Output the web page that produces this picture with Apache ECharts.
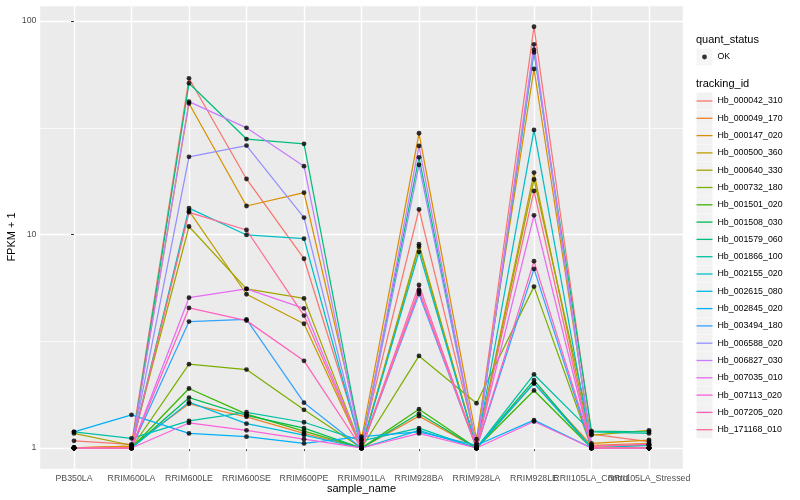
<!DOCTYPE html>
<html>
<head>
<meta charset="utf-8">
<script src="https://cdn.jsdelivr.net/npm/echarts@6/dist/echarts.min.js"></script>
<style>
html,body{margin:0;padding:0;background:#fff;}
#chart{width:800px;height:500px;}
</style>
</head>
<body>
<div id="chart"></div>
<script>
// ---------- data (FPKM + 1) ----------
const categories = ['PB350LA','RRIM600LA','RRIM600LE','RRIM600SE','RRIM600PE','RRIM901LA','RRIM928BA','RRIM928LA','RRIM928LE','RRII105LA_Control','RRII105LA_Stressed'];
const trackingIds = ['Hb_000042_310','Hb_000049_170','Hb_000147_020','Hb_000500_360','Hb_000640_330','Hb_000732_180','Hb_001501_020','Hb_001508_030','Hb_001579_060','Hb_001866_100','Hb_002155_020','Hb_002615_080','Hb_002845_020','Hb_003494_180','Hb_006588_020','Hb_006827_030','Hb_007035_010','Hb_007113_020','Hb_007205_020','Hb_171168_010'];

const Hb_000042_310 = [1.08, 1.04, 53.9, 18.2, 7.7, 1.05, 13.1, 1.05, 94.0, 1.16, 1.07];
const Hb_000049_170 = [1.00, 1.02, 1.61, 1.40, 1.17, 1.00, 1.41, 1.00, 2.01, 1.03, 1.05];
const Hb_000147_020 = [1.00, 1.02, 41.1, 13.6, 15.7, 1.10, 29.8, 1.10, 59.6, 1.05, 1.09];
const Hb_000500_360 = [1.00, 1.00, 12.9, 5.25, 3.82, 1.00, 9.0, 1.00, 19.5, 1.02, 1.03];
const Hb_000640_330 = [1.17, 1.03, 10.9, 5.56, 5.02, 1.00, 8.77, 1.00, 18.1, 1.15, 1.21];
const Hb_000732_180 = [1.00, 1.00, 2.47, 2.33, 1.51, 1.00, 2.70, 1.62, 5.7, 1.00, 1.00];
const Hb_001501_020 = [1.00, 1.00, 1.90, 1.44, 1.20, 1.00, 1.52, 1.00, 1.86, 1.00, 1.00];
const Hb_001508_030 = [1.00, 1.00, 1.72, 1.42, 1.24, 1.00, 1.45, 1.00, 2.08, 1.00, 1.00];
const Hb_001579_060 = [1.00, 1.00, 51.1, 28.0, 26.6, 1.03, 23.0, 1.00, 71.3, 1.20, 1.19];
const Hb_001866_100 = [1.19, 1.11, 1.34, 1.47, 1.32, 1.08, 1.24, 1.00, 2.21, 1.19, 1.17];
const Hb_002155_020 = [1.00, 1.00, 13.3, 9.95, 9.56, 1.00, 8.3, 1.00, 30.9, 1.00, 1.03];
const Hb_002615_080 = [1.00, 1.00, 1.64, 1.30, 1.15, 1.00, 1.21, 1.00, 2.01, 1.00, 1.00];
const Hb_002845_020 = [1.19, 1.43, 1.17, 1.13, 1.05, 1.13, 1.19, 1.03, 1.35, 1.00, 1.00];
const Hb_003494_180 = [1.00, 1.00, 3.91, 4.00, 1.63, 1.00, 5.26, 1.00, 6.9, 1.00, 1.00];
const Hb_006588_020 = [1.00, 1.00, 23.1, 26.1, 12.0, 1.00, 21.2, 1.00, 73.4, 1.00, 1.00];
const Hb_006827_030 = [1.00, 1.00, 41.9, 31.6, 20.9, 1.00, 26.0, 1.00, 77.8, 1.00, 1.00];
const Hb_007035_010 = [1.00, 1.00, 5.06, 5.56, 4.51, 1.00, 5.4, 1.00, 12.3, 1.00, 1.00];
const Hb_007113_020 = [1.00, 1.00, 1.31, 1.21, 1.10, 1.00, 1.17, 1.00, 1.33, 1.00, 1.00];
const Hb_007205_020 = [1.00, 1.00, 4.53, 3.95, 2.56, 1.00, 5.8, 1.00, 7.5, 1.02, 1.04];
const Hb_171168_010 = [1.00, 1.00, 12.7, 10.5, 4.17, 1.00, 5.5, 1.00, 16.0, 1.00, 1.00];

const seriesValues = [Hb_000042_310, Hb_000049_170, Hb_000147_020, Hb_000500_360, Hb_000640_330, Hb_000732_180, Hb_001501_020, Hb_001508_030, Hb_001579_060, Hb_001866_100, Hb_002155_020, Hb_002615_080, Hb_002845_020, Hb_003494_180, Hb_006588_020, Hb_006827_030, Hb_007035_010, Hb_007113_020, Hb_007205_020, Hb_171168_010];

const yTickValues = [1, 10, 100];
const yTickLabels = ['1', '10', '100'];
const quantStatus = 'OK';

// ---------- style ----------
const palette = ['#F8766D','#EA8331','#D89000','#C09B00','#A3A500','#7CAE00','#39B600','#00BB4E','#00BF7D','#00C1A3','#00BFC4','#00BAE0','#00B0F6','#35A2FF','#9590FF','#C77CFF','#E76BF3','#FA62DB','#FF62BC','#FF6C91'];
const FONT = 'Liberation Sans, Arial, Helvetica, sans-serif';
const Y_MIN = -0.0984, Y_MAX = 2.075;

const lineSeries = trackingIds.map((id, k) => ({
  name: id,
  type: 'line',
  symbol: 'none',
  z: 2,
  silent: true,
  color: palette[k],
  lineStyle: { width: 1.25, color: palette[k] },
  data: seriesValues[k].map((v, i) => [i, Math.log10(v)])
}));

const pointData = [];
seriesValues.forEach(arr => arr.forEach((v, i) => pointData.push([i, Math.log10(v)])));

const scatterSeries = {
  name: quantStatus,
  type: 'scatter',
  symbol: 'circle',
  symbolSize: 4.8,
  z: 3,
  color: '#000000',
  itemStyle: { color: '#000000' },
  data: pointData
};

const isInt = v => Math.abs(v - Math.round(v)) < 1e-6;

// legend key icons: 16x17 bounding box (moveTo points fix the box), glyph inside
const keyW = 16, keyH = 17;
const lineKeyIcon = 'path://M0,0M16,17M0,7.85L16,7.85L16,9.15L0,9.15Z';
const dotKeyIcon = 'path://M0,0M16,17M10.4,8.5A2.4,2.4,0,1,1,5.6,8.5A2.4,2.4,0,1,1,10.4,8.5Z';

const chart = echarts.init(document.getElementById('chart'), null, { renderer: 'canvas' });
chart.setOption({
  animation: false,
  backgroundColor: '#FFFFFF',
  textStyle: { fontFamily: FONT },
  title: [
    { text: 'quant_status', left: 696, top: 34, padding: 0,
      textStyle: { fontSize: 11, fontWeight: 'normal', color: '#000', fontFamily: FONT } },
    { text: 'tracking_id', left: 696, top: 78, padding: 0,
      textStyle: { fontSize: 11, fontWeight: 'normal', color: '#000', fontFamily: FONT } }
  ],
  legend: [
    { data: [quantStatus], orient: 'vertical', left: 696.5, top: 48.5, padding: 0,
      itemWidth: keyW, itemHeight: keyH, icon: 'rect', selectedMode: false, z: 3,
      itemStyle: { color: '#F2F2F2', borderWidth: 0 },
      textStyle: { fontSize: 8.8, color: '#000', fontFamily: FONT } },
    { data: [quantStatus], orient: 'vertical', left: 696.5, top: 48.5, padding: 0,
      itemWidth: keyW, itemHeight: keyH, icon: dotKeyIcon, selectedMode: false, z: 5,
      itemStyle: { color: '#000', borderWidth: 0 },
      textStyle: { fontSize: 8.8, color: 'rgba(0,0,0,0)', fontFamily: FONT } },
    { data: trackingIds, orient: 'vertical', left: 696.5, top: 92.5, padding: 0,
      itemWidth: keyW, itemHeight: keyH, itemGap: 0.3, icon: 'rect', selectedMode: false, z: 3,
      itemStyle: { color: '#F2F2F2', borderWidth: 0 },
      textStyle: { fontSize: 8.8, color: '#000', fontFamily: FONT } },
    { data: trackingIds, orient: 'vertical', left: 696.5, top: 92.5, padding: 0,
      itemWidth: keyW, itemHeight: keyH, itemGap: 0.3,
      icon: lineKeyIcon, selectedMode: false, z: 5,
      itemStyle: { borderWidth: 0 },
      textStyle: { fontSize: 8.8, color: 'rgba(0,0,0,0)', fontFamily: FONT } }
  ],
  grid: {
    left: 39.5, right: 116.5, top: 5, bottom: 31,
    show: true, backgroundColor: '#EBEBEB', borderWidth: 0,
    containLabel: false, outerBoundsMode: 'none'
  },
  xAxis: {
    type: 'value',
    min: -0.6, max: categories.length - 1 + 0.6,
    minInterval: 1, maxInterval: 1,
    name: 'sample_name', nameLocation: 'middle', nameGap: 14, nameMoveOverlap: false,
    nameTextStyle: { fontSize: 11, color: '#000', fontFamily: FONT },
    axisLine: { show: false },
    axisTick: { show: true, length: 3, lineStyle: { color: '#333333', width: 1 } },
    axisLabel: {
      margin: 5, fontSize: 8.8, color: '#4D4D4D', fontFamily: FONT,
      showMinLabel: false, showMaxLabel: false, hideOverlap: false,
      formatter: v => (isInt(v) && v >= 0 && v < categories.length) ? categories[Math.round(v)] : ''
    },
    splitLine: { show: true, lineStyle: { color: '#FFFFFF', width: 1.4 } }
  },
  yAxis: [
    { // major axis: 1, 10, 100
      type: 'value', position: 'left',
      min: Y_MIN, max: Y_MAX,
      minInterval: 1, maxInterval: 1,
      name: 'FPKM + 1', nameLocation: 'middle', nameGap: 22, nameRotate: 90, nameMoveOverlap: false,
      nameTextStyle: { fontSize: 11, color: '#000', fontFamily: FONT },
      axisLine: { show: false },
      axisTick: { show: true, length: 3, lineStyle: { color: '#333333', width: 1 } },
      axisLabel: {
        margin: 3, fontSize: 8.8, color: '#4D4D4D', fontFamily: FONT,
        showMinLabel: false, showMaxLabel: false,
        formatter: v => {
          const i = yTickValues.findIndex(t => Math.abs(Math.log10(t) - v) < 1e-6);
          return i >= 0 ? yTickLabels[i] : '';
        }
      },
      splitLine: { show: true, lineStyle: { color: '#FFFFFF', width: 1.4 } },
      z: 1
    },
    { // minor grid (half decades)
      type: 'value', position: 'left',
      min: Y_MIN, max: Y_MAX,
      minInterval: 0.5, maxInterval: 0.5,
      axisLine: { show: false }, axisTick: { show: false }, axisLabel: { show: false },
      splitLine: { show: true, lineStyle: { color: '#FFFFFF', width: 0.7 } },
      z: 0
    }
  ],
  series: lineSeries.concat([scatterSeries])
});
</script>
</body>
</html>
